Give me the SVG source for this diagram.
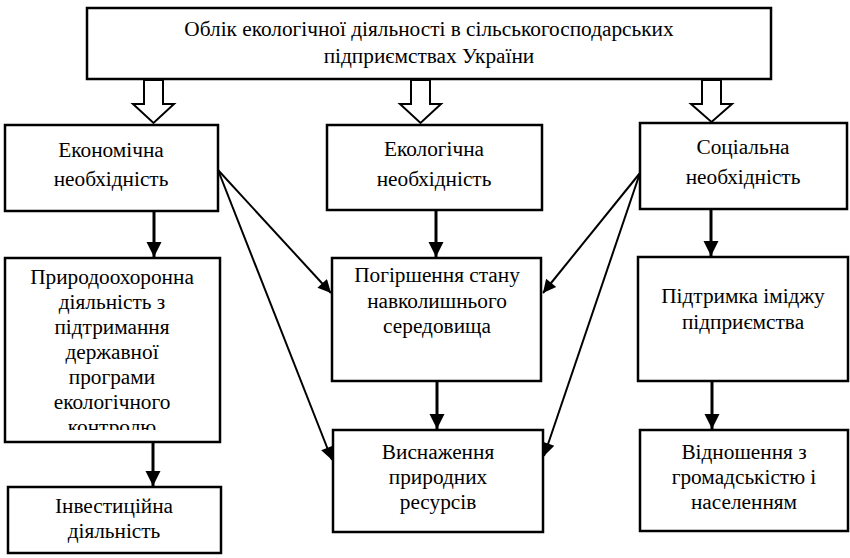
<svg xmlns="http://www.w3.org/2000/svg" width="850" height="558" viewBox="0 0 850 558">
<defs>
<style>
.box{fill:#fff;stroke:#000;stroke-width:2.5}
</style>
<marker id="ah" viewBox="0 0 10 10" refX="10" refY="5" markerWidth="5" markerHeight="5.3" orient="auto" markerUnits="strokeWidth">
<path d="M0,0 L10,5 L0,10 z" fill="#000"/>
</marker>
<marker id="ah2" viewBox="0 0 10 10" refX="10" refY="5" markerWidth="8.5" markerHeight="6.5" orient="auto" markerUnits="strokeWidth">
<path d="M0,0 L10,5 L0,10 z" fill="#000"/>
</marker>
<clipPath id="cp1"><rect x="5" y="258" width="215" height="172"/></clipPath>
</defs>
<rect width="850" height="558" fill="#fff"/>

<g id="n-top">
<rect class="box" x="87" y="8" width="684" height="71"/>
<text font-family="Liberation Serif" font-size="21.3" text-anchor="middle" x="429" y="36">Облік екологічної діяльності в сільськогосподарських</text>
<text font-family="Liberation Serif" font-size="21.3" text-anchor="middle" x="429" y="63">підприємствах України</text>
</g>

<g id="connectors" stroke="#000">
<g fill="#fff" stroke-width="2">
<path d="M144,80 V104 H133 L153.5,123 L174,104 H163 V80 Z"/>
<path d="M411,80 V104 H400 L420.5,123 L441,104 H430 V80 Z"/>
<path d="M702,80 V104 H691 L711.5,122 L732,104 H721 V80 Z"/>
</g>
<g stroke-width="3" marker-end="url(#ah)">
<line x1="154" y1="212" x2="154" y2="257"/>
<line x1="436" y1="211" x2="436" y2="257"/>
<line x1="711" y1="210" x2="711" y2="256"/>
<line x1="153" y1="443" x2="153" y2="486"/>
<line x1="437" y1="382" x2="437" y2="429"/>
<line x1="712" y1="382" x2="712" y2="429"/>
</g>
<g stroke-width="2" marker-end="url(#ah2)">
<line x1="218" y1="170" x2="331" y2="293"/>
<line x1="218" y1="170" x2="332" y2="460"/>
<line x1="640" y1="173" x2="543" y2="293"/>
<line x1="640" y1="173" x2="544" y2="456"/>
</g>
</g>

<g id="n-econ">
<rect class="box" x="5" y="125" width="213" height="86"/>
<text font-family="Liberation Serif" font-size="21.3" text-anchor="middle" x="111" y="157">Економічна</text>
<text font-family="Liberation Serif" font-size="21.3" text-anchor="middle" x="111" y="186">необхідність</text>
</g>
<g id="n-eco">
<rect class="box" x="327" y="125" width="215" height="85"/>
<text font-family="Liberation Serif" font-size="21.3" text-anchor="middle" x="434" y="156">Екологічна</text>
<text font-family="Liberation Serif" font-size="21.3" text-anchor="middle" x="434" y="186">необхідність</text>
</g>
<g id="n-soc">
<rect class="box" x="640" y="123" width="207" height="86"/>
<text font-family="Liberation Serif" font-size="21.3" text-anchor="middle" x="743" y="154">Соціальна</text>
<text font-family="Liberation Serif" font-size="21.3" text-anchor="middle" x="743" y="184">необхідність</text>
</g>
<g id="n-pryrodo">
<rect class="box" x="5" y="258" width="215" height="184"/>
<g clip-path="url(#cp1)">
<text font-family="Liberation Serif" font-size="21.3" text-anchor="middle" x="112" y="284">Природоохоронна</text>
<text font-family="Liberation Serif" font-size="21.3" text-anchor="middle" x="112" y="309">діяльність з</text>
<text font-family="Liberation Serif" font-size="21.3" text-anchor="middle" x="112" y="334">підтримання</text>
<text font-family="Liberation Serif" font-size="21.3" text-anchor="middle" x="112" y="359">державної</text>
<text font-family="Liberation Serif" font-size="21.3" text-anchor="middle" x="112" y="384">програми</text>
<text font-family="Liberation Serif" font-size="21.3" text-anchor="middle" x="112" y="409">екологічного</text>
<text font-family="Liberation Serif" font-size="21.3" text-anchor="middle" x="112" y="434">контролю</text>
</g>
</g>
<g id="n-invest">
<rect class="box" x="8" y="487" width="213" height="66"/>
<text font-family="Liberation Serif" font-size="21.3" text-anchor="middle" x="114" y="513">Інвестиційна</text>
<text font-family="Liberation Serif" font-size="21.3" text-anchor="middle" x="114" y="538">діяльність</text>
</g>
<g id="n-pohir">
<rect class="box" x="332" y="258" width="209" height="123"/>
<text font-family="Liberation Serif" font-size="21.3" text-anchor="middle" x="437" y="282">Погіршення стану</text>
<text font-family="Liberation Serif" font-size="21.3" text-anchor="middle" x="437" y="308">навколишнього</text>
<text font-family="Liberation Serif" font-size="21.3" text-anchor="middle" x="437" y="333">середовища</text>
</g>
<g id="n-vysn">
<rect class="box" x="333" y="430" width="210" height="102"/>
<text font-family="Liberation Serif" font-size="21.3" text-anchor="middle" x="438" y="459">Виснаження</text>
<text font-family="Liberation Serif" font-size="21.3" text-anchor="middle" x="438" y="484">природних</text>
<text font-family="Liberation Serif" font-size="21.3" text-anchor="middle" x="438" y="509">ресурсів</text>
</g>
<g id="n-pidtr">
<rect class="box" x="638" y="257" width="210" height="124"/>
<text font-family="Liberation Serif" font-size="21.3" text-anchor="middle" x="743" y="303">Підтримка іміджу</text>
<text font-family="Liberation Serif" font-size="21.3" text-anchor="middle" x="743" y="329">підприємства</text>
</g>
<g id="n-vidn">
<rect class="box" x="640" y="430" width="208" height="101"/>
<text font-family="Liberation Serif" font-size="21.3" text-anchor="middle" x="744" y="459">Відношення з</text>
<text font-family="Liberation Serif" font-size="21.3" text-anchor="middle" x="744" y="484">громадськістю і</text>
<text font-family="Liberation Serif" font-size="21.3" text-anchor="middle" x="744" y="509">населенням</text>
</g>
</svg>
